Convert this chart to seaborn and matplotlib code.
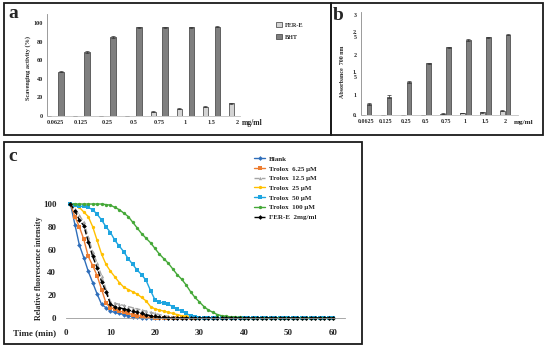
import matplotlib
matplotlib.use("Agg")
import matplotlib.pyplot as plt
from matplotlib.patches import Rectangle
import pandas as pd
import seaborn as sns

W, H = 550, 348

# ---- panel a / b : bar data ----
conc_labels = ["0.0625", "0.125", "0.25", "0.5", "0.75", "1", "1.5", "2"]
samples = ["FER-E", "BHT"]

fere_scav = [0, 0, 0, 0.3, 4.6, 8.0, 10.0, 13.5]
bht_scav = [47.5, 68.5, 85.0, 95.2, 95.5, 95.5, 96.0, 96.0]
fere_scav_err = [0, 0, 0, 0, 0.8, 0.8, 0.7, 0.9]
bht_scav_err = [0.6, 1.0, 1.0, 0.6, 0.5, 0.5, 0.4, 0.4]

fere_abs = [0.50, 0.50, 0.51, 0.51, 0.53, 0.55, 0.57, 0.61]
bht_abs = [0.78, 0.96, 1.33, 1.79, 2.19, 2.38, 2.44, 2.51]
fere_abs_err = [0, 0, 0, 0, 0.01, 0.01, 0.01, 0.01]
bht_abs_err = [0.02, 0.03, 0.02, 0.02, 0.02, 0.02, 0.02, 0.02]

abs_ticks = [0.5, 1, 1.5, 2, 2.5, 3]
abs_tick_labels = ["0.", "1", "1.\n5", "2", "2.\n5", "3"]

# ---- panel c : fluorescence decay curves ----
time_min = list(range(1, 61))
blank = [100, 82, 64, 53, 41, 31, 21, 12, 9, 6, 5, 4, 3, 2, 1, 0.5, 0, 0, 0, 0,
         0, 0, 0, 0, 0, 0, 0, 0, 0, 0, 0, 0, 0, 0, 0, 0, 0, 0, 0, 0,
         0, 0, 0, 0, 0, 0, 0, 0, 0, 0, 0, 0, 0, 0, 0, 0, 0, 0, 0, 0]
trolox_6 = [100, 89, 80, 69, 54, 46, 37, 25, 13, 9, 8, 6, 5, 4, 3, 2, 1.5, 1, 0.5, 0,
            0, 0, 0, 0, 0, 0, 0, 0, 0, 0, 0, 0, 0, 0, 0, 0, 0, 0, 0, 0,
            0, 0, 0, 0, 0, 0, 0, 0, 0, 0, 0, 0, 0, 0, 0, 0, 0, 0, 0, 0]
trolox_12 = [100, 96, 90, 84, 71, 58, 48, 37, 25, 14, 13, 12, 11, 10, 9, 8, 7, 6, 5, 4,
             3, 2, 1.5, 1, 0.5, 0, 0, 0, 0, 0, 0, 0, 0, 0, 0, 0, 0, 0, 0, 0,
             0, 0, 0, 0, 0, 0, 0, 0, 0, 0, 0, 0, 0, 0, 0, 0, 0, 0, 0, 0]
trolox_25 = [100, 99, 97, 93, 89, 80, 68, 56, 47, 41, 36, 31, 27, 25, 23, 21, 18, 15, 10, 8,
             7, 6, 5, 4, 3, 2, 1.5, 0.5, 0, 0, 0, 0, 0, 0, 0, 0, 0, 0, 0, 0,
             0, 0, 0, 0, 0, 0, 0, 0, 0, 0, 0, 0, 0, 0, 0, 0, 0, 0, 0, 0]
trolox_50 = [100, 99, 98, 98, 97, 95, 91, 86, 80, 75, 68, 63, 58, 52, 47, 42, 38, 33, 24, 16,
             14, 13, 12, 10, 8, 6, 4, 2, 1, 0, 0, 0, 0, 0, 0, 0, 0, 0, 0, 0,
             0, 0, 0, 0, 0, 0, 0, 0, 0, 0, 0, 0, 0, 0, 0, 0, 0, 0, 0, 0]
trolox_100 = [100, 100, 100, 100, 100, 100, 100, 100, 99.5, 99, 97, 95, 92, 89, 84, 79, 74, 70, 66, 61,
              56, 52, 48, 43, 38, 34, 29, 23, 18, 14, 10, 7, 5, 3, 2, 1.5, 1, 1, 0.5, 0,
              0, 0, 0, 0, 0, 0, 0, 0, 0, 0, 0, 0, 0, 0, 0, 0, 0, 0, 0, 0]
fere_2mg = [100, 94, 86, 81, 67, 54, 44, 32, 23, 12, 10, 9, 8, 7, 6, 5, 4, 3, 2, 1.5,
            1, 0.5, 0, 0, 0, 0, 0, 0, 0, 0, 0, 0, 0, 0, 0, 0, 0, 0, 0, 0,
            0, 0, 0, 0, 0, 0, 0, 0, 0, 0, 0, 0, 0, 0, 0, 0, 0, 0, 0, 0]

curve_labels = ["Blank", "Trolox  6.25 \u03bcM", "Trolox  12.5 \u03bcM", "Trolox  25 \u03bcM",
                "Trolox  50 \u03bcM", "Trolox  100 \u03bcM", "FER-E  2mg/ml"]
curve_values = [blank, trolox_6, trolox_12, trolox_25, trolox_50, trolox_100, fere_2mg]
curve_colors = ["#2f6eba", "#ed7d31", "#a5a5a5", "#ffc000", "#1ea5e0", "#45a838", "#000000"]
curve_markers = ["D", "s", "^", "o", "s", "o", "D"]
curve_styles = ["-", "-", "--", "-", "-", "-", "--"]

bar_colors = {"FER-E": "#d3d3d3", "BHT": "#7f7f7f"}

sns.set_theme(style="white")
plt.rcParams["font.family"] = ["Liberation Serif", "DejaVu Serif"]
plt.rcParams["font.weight"] = "bold"


def px_rect(left, top, right, bottom):
    return [left / W, 1 - bottom / H, (right - left) / W, (bottom - top) / H]


def bar_panel(ax, fere, bht, fere_err, bht_err, width, gap):
    df = pd.DataFrame({
        "conc": conc_labels + conc_labels,
        "sample": ["FER-E"] * len(fere) + ["BHT"] * len(bht),
        "value": fere + bht,
    })
    sns.barplot(data=df, x="conc", y="value", hue="sample", order=conc_labels,
                hue_order=samples, palette=bar_colors, width=width, gap=gap,
                edgecolor="#3a3a3a", linewidth=0.5, errorbar=None, ax=ax)
    conts = list(ax.containers)[:2]
    for cont, err in zip(conts, [fere_err, bht_err]):
        xs = [p.get_x() + p.get_width() / 2 for p in cont]
        hs = [p.get_height() for p in cont]
        ax.errorbar(xs, hs, yerr=err, fmt="none", ecolor="#333333",
                    elinewidth=0.5, capsize=1.2, capthick=0.5)
    for s in ["top", "right"]:
        ax.spines[s].set_visible(False)
    ax.spines["left"].set_color("#8a8a8a")
    ax.spines["bottom"].set_color("#c0c0c0")
    ax.spines["left"].set_linewidth(0.6)
    ax.spines["bottom"].set_linewidth(0.6)
    ax.set_xlabel("")
    ax.set_ylabel("")
    ax.tick_params(axis="x", length=0, pad=3, labelsize=4.5)
    ax.tick_params(axis="y", length=0, pad=3, labelsize=4.5)


fig = plt.figure(figsize=(W / 100, H / 100), dpi=100)

# panel frames
for l, t, r, b in [(4, 3, 331, 135), (331, 3, 543, 135), (4, 142, 362, 344)]:
    fig.add_artist(Rectangle((l / W, 1 - b / H), (r - l) / W, (b - t) / H,
                             transform=fig.transFigure, fill=False,
                             edgecolor="#1a1a1a", linewidth=1.3))

# ---- a ----
ax_a = fig.add_axes(px_rect(47, 13.7, 240, 116))
bar_panel(ax_a, fere_scav, bht_scav, fere_scav_err, bht_scav_err, 0.92, 0.54)
ax_a.set_xlim(-0.31, 7.1)
ax_a.set_ylim(0, 110)
ax_a.set_yticks([0, 20, 40, 60, 80, 100])
handles, labels = ax_a.get_legend_handles_labels()
ax_a.get_legend().remove()
fig.legend(handles, labels, loc="upper left", bbox_to_anchor=(276 / W, 1 - 22 / H),
           frameon=False, fontsize=4.5, handlelength=0.9, handleheight=0.9,
           handletextpad=0.5, labelspacing=1.0, borderpad=0, borderaxespad=0)
fig.text(28 / W, 1 - 68 / H, "Scavenging activity (%)", rotation=90,
         ha="center", va="center", fontsize=4.5)
fig.text(252 / W, 1 - 123 / H, "mg/ml", ha="center", va="center", fontsize=5.5)
fig.text(8 / W, 1 - 14 / H, "a", ha="left", va="center", fontsize=14, fontweight="bold")

# ---- b ----
ax_b = fig.add_axes(px_rect(361, 12.2, 518, 115))
bar_panel(ax_b, fere_abs, bht_abs, fere_abs_err, bht_abs_err, 0.6, 0.25)
ax_b.get_legend().remove()
ax_b.set_xlim(-0.25, 7.64)
ax_b.set_ylim(0.5, 3.07)
ax_b.set_yticks(abs_ticks)
ax_b.set_yticklabels(abs_tick_labels, linespacing=0.9)
ax_b.tick_params(axis="both", labelsize=4.3)
fig.text(342 / W, 1 - 72 / H, "Absorbance  700 nm", rotation=90,
         ha="center", va="center", fontsize=4.3)
fig.text(524 / W, 1 - 122 / H, "mg/ml", ha="center", va="center", fontsize=5.2)
fig.text(333 / W, 1 - 15 / H, "b", ha="left", va="center", fontsize=14, fontweight="bold")

# ---- c ----
ax_c = fig.add_axes(px_rect(66, 200.6, 345, 318))
for label, vals, color, marker, ls in zip(curve_labels, curve_values, curve_colors,
                                          curve_markers, curve_styles):
    sns.lineplot(x=time_min, y=vals, ax=ax_c, color=color, marker=marker,
                 markersize=2.4, markeredgewidth=0, linewidth=1.0, linestyle=ls,
                 label=label, clip_on=False)
ax_c.set_xlim(0, 62.7)
ax_c.set_ylim(0, 103)
ax_c.set_xticks([0, 10, 20, 30, 40, 50, 60])
ax_c.set_yticks([0, 20, 40, 60, 80, 100])
for s in ["top", "right", "left"]:
    ax_c.spines[s].set_visible(False)
ax_c.spines["bottom"].set_color("#9a9a9a")
ax_c.spines["bottom"].set_linewidth(0.6)
ax_c.tick_params(axis="x", length=0, pad=8, labelsize=6.5)
ax_c.tick_params(axis="y", length=0, pad=7, labelsize=6.5)
ax_c.set_xlabel("")
ax_c.set_ylabel("")
handles, labels = ax_c.get_legend_handles_labels()
ax_c.legend(handles, labels, loc="upper left", bbox_to_anchor=(254 / W, 1 - 156 / H),
            bbox_transform=fig.transFigure, frameon=False, fontsize=5,
            handlelength=1.6, handletextpad=0.6, labelspacing=0.55,
            borderpad=0, borderaxespad=0)
fig.text(39 / W, 1 - 268 / H, "Relative fluorescence intensity", rotation=90,
         ha="center", va="center", fontsize=5.8)
fig.text(13 / W, 1 - 333 / H, "Time (min)", ha="left", va="center", fontsize=6.5)
fig.text(8 / W, 1 - 157 / H, "c", ha="left", va="center", fontsize=14, fontweight="bold")

fig.savefig("out.png", dpi=100)
plt.close(fig)
